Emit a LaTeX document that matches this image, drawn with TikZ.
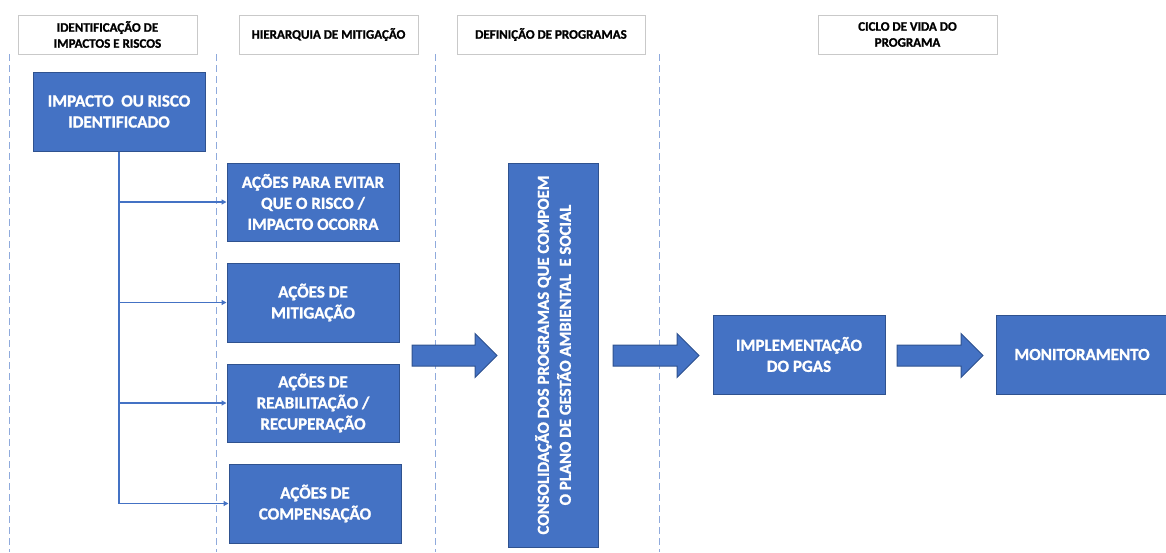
\documentclass[tikz,border=0pt]{standalone}
\usepackage{fontspec}
\setmainfont{Carlito}[BoldFont={Carlito Bold}, BoldFeatures={FakeBold=1.2}]
\usetikzlibrary{arrows.meta}
\definecolor{boxblue}{HTML}{4472C4}
\definecolor{boxedge}{HTML}{2F528F}
\definecolor{dashblue}{HTML}{8FAADC}
\definecolor{hdredge}{HTML}{C9C9C9}
\tikzset{
  hdr/.style={draw=hdredge, line width=0.9pt, fill=white, minimum width=179pt, minimum height=39pt,
    inner sep=0pt, align=center, font=\fontsize{13}{16}\selectfont\bfseries, text=black},
  bluebox/.style={draw=boxedge, line width=1pt, fill=boxblue, minimum width=172pt, minimum height=78pt,
    inner sep=0pt, align=center, font=\fontsize{17}{21}\selectfont\bfseries, text=white},
  lane/.style={draw=dashblue, line width=1pt, dash pattern=on 7pt off 4pt},
  conn/.style={draw=boxblue, line width=1.3pt, -{Triangle[length=5pt,width=5pt]}},
  bigarrow/.style={draw=boxedge, line width=1pt, fill=boxblue, line join=miter}
}
\newcommand{\blockarrow}[3]{%
  \path[bigarrow] (#1,#3-10.5) -- (#2-22,#3-10.5) -- (#2-22,#3-22) -- (#2,#3) -- (#2-22,#3+22)
    -- (#2-22,#3+10.5) -- (#1,#3+10.5) -- cycle;}
\begin{document}
\begin{tikzpicture}[x=1pt,y=-1pt]
\useasboundingbox (0,0) rectangle (1166,552);
% lanes
\foreach \lx in {9,216,435,659} \draw[lane] (\lx,54) -- (\lx,552);
% headers
\node[hdr] (h1) at (107.5,34.5) {IDENTIFICAÇÃO DE\\IMPACTOS E RISCOS};
\node[hdr] (h2) at (328.5,34.5) {HIERARQUIA DE MITIGAÇÃO};
\node[hdr, minimum width=188pt] (h3) at (551,34.5) {DEFINIÇÃO DE PROGRAMAS};
\node[hdr] (h4) at (907.5,34.5) {CICLO DE VIDA DO\\PROGRAMA};
% boxes
\node[bluebox, minimum height=79pt] (b0) at (119,111.5) {IMPACTO\ \ OU RISCO\\IDENTIFICADO};
\node[bluebox] (b1) at (313,202) {AÇÕES PARA EVITAR\\QUE O RISCO /\\IMPACTO OCORRA};
\node[bluebox, minimum height=79pt] (b2) at (313,302.5) {AÇÕES DE\\MITIGAÇÃO};
\node[bluebox] (b3) at (313,403) {AÇÕES DE\\REABILITAÇÃO /\\RECUPERAÇÃO};
\node[bluebox, minimum height=79pt] (b4) at (315,503.5) {AÇÕES DE\\COMPENSAÇÃO};
\node[bluebox, minimum width=90pt, minimum height=384pt] (pg) at (553,355) {};
\node[rotate=90, align=center, text=white, font=\fontsize{16.8}{22}\selectfont\bfseries] (pgt) at (pg.center)
  {CONSOLIDAÇÃO DOS PROGRAMAS QUE COMPOEM\\O PLANO DE GESTÃO AMBIENTAL\ \ E SOCIAL};
\node[bluebox, minimum height=79pt] (im) at (799,354.5) {IMPLEMENTAÇÃO\\DO PGAS};
\node[bluebox, minimum height=79pt] (mo) at (1082,354.5) {MONITORAMENTO};
% connectors
\draw[conn] (b0.south) |- (b1.west);
\draw[conn] (b0.south) |- (b2.west);
\draw[conn] (b0.south) |- (b3.west);
\draw[conn] (b0.south) |- (b4.west);
% block arrows
\blockarrow{412}{497}{355.5}
\blockarrow{613}{699}{355.5}
\blockarrow{897}{983}{355.5}
\end{tikzpicture}
\end{document}
